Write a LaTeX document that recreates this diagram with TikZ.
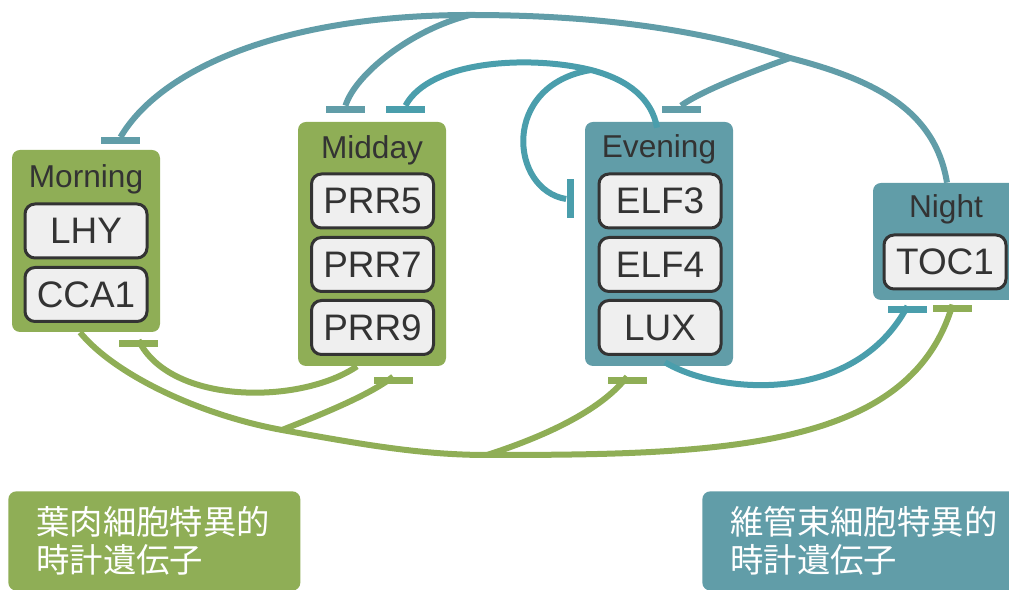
\documentclass[tikz,border=0pt]{standalone}
\usepackage{fontspec}
\setmainfont{Liberation Sans}
\newfontfamily\jpfont{Noto Sans CJK JP}
\usetikzlibrary{calc}
\definecolor{leaf}{RGB}{143,174,86}
\definecolor{vasc}{RGB}{97,157,168}
\definecolor{evline}{RGB}{74,158,172}
\definecolor{genefill}{RGB}{239,239,239}
\definecolor{ink}{RGB}{51,51,51}
\newlength{\pu}
\setlength{\pu}{0.02cm}

\begin{document}
\begin{tikzpicture}
	    [x=0.02cm, y=-0.02cm,
	    phase/.style={fill=#1, rounded corners=8\pu, minimum width=148\pu, inner sep=0pt},
	    phasetitle/.style={text=ink, anchor=base, inner sep=0pt, font=\fontsize{18}{20}\selectfont},
	    gene/.style={fill=genefill, draw=ink, line width=3\pu, rounded corners=10\pu, minimum width=122\pu, minimum height=54\pu, inner sep=0pt, text=ink, font=\fontsize{21}{24}\selectfont},
	    hbar/.style={fill=#1, minimum width=39\pu, minimum height=7\pu, inner sep=0pt},
	    vbar/.style={fill=#1, minimum width=7\pu, minimum height=39\pu, inner sep=0pt},
	    inh/.style={draw=#1, line width=6\pu},
	    cellbox/.style={fill=#1, rounded corners=8\pu, anchor=north west, text=white, align=left, inner xsep=28\pu, inner ysep=15\pu, font=\jpfont\fontsize{19}{21.8}\selectfont}]
	     \useasboundingbox (0,0) rectangle (1009,590);
	     % phase boxes
	     \node[phase=leaf, minimum height=182\pu] (morning) at (86, 241) {};
	     \node[phase=leaf, minimum height=244\pu] (midday) at (372, 244) {};
	     \node[phase=vasc, minimum height=244\pu] (evening) at (659, 244) {};
	     \node[phase=vasc, minimum height=117\pu] (night) at (947, 241.5) {};
	     \node[phasetitle] (Tmorning) at (86, 188) {Morning};
	     \node[phasetitle] (Tmidday) at (372, 159) {Midday};
	     \node[phasetitle] (Tevening) at (659, 158) {Evening};
	     \node[phasetitle] (Tnight) at (946, 218) {Night};
	     % genes
	     \node[gene] (LHY) at (86, 231) {LHY};
	     \node[gene] (CCA1) at (86, 294.5) {CCA1};
	     \node[gene] (PRR5) at (372.5, 201) {PRR5};
	     \node[gene] (PRR7) at (372.5, 264.5) {PRR7};
	     \node[gene] (PRR9) at (372.5, 327.5) {PRR9};
	     \node[gene] (ELF3) at (660, 201) {ELF3};
	     \node[gene] (ELF4) at (660, 264.5) {ELF4};
	     \node[gene] (LUX) at (660, 327.5) {LUX};
	     \node[gene] (TOC1) at (945, 262) {TOC1};
	     % cell types
	     \node[cellbox=leaf, text width=236\pu] (meso) at (8, 491) {葉肉細胞特異的\\時計遺伝子};
	     \node[cellbox=vasc, text width=300\pu] (vascular) at (702, 491) {維管束細胞特異的\\時計遺伝子};
	     % repression bars
	     \node[hbar=vasc] (B1) at (120.5, 141) {};
	     \node[hbar=vasc] (B2) at (345.5, 109.5) {};
	     \node[hbar=evline] (B3) at (405.5, 109.5) {};
	     \node[hbar=vasc] (B4) at (681, 109.5) {};
	     \node[vbar=evline] (B5) at (570, 199) {};
	     \node[hbar=evline] (B6) at (907.5, 310) {};
	     \node[hbar=leaf] (B7) at (952.5, 308.5) {};
	     \node[hbar=leaf] (B8) at (138.5, 344) {};
	     \node[hbar=leaf] (B9) at (393, 380.5) {};
	     \node[hbar=leaf] (B10) at (627, 380.5) {};
	     \coordinate (ts1) at (470, 15);
	     \coordinate (ts2) at (790, 58);
	     \coordinate (es) at (591, 70);
	     \coordinate (gs1) at (282, 430);
	     \coordinate (gs2) at (487, 455);
	     % night
	     \draw[inh=vasc] (night.north) .. controls (935,110) and (875,80) .. (ts2) .. controls (700,30) and (600,15) .. (ts1) .. controls (280,15) and (160,70) .. (B1.north);
	     \draw[inh=vasc] (ts1) .. controls (410,30) and (355,75) .. (B2.north);
	     \draw[inh=vasc] (ts2) .. controls (745,74) and (700,92) .. (B4.north);
	     % evening
	     \draw[inh=evline] ([xshift=-2\pu, yshift=-6\pu]evening.north) .. controls (652,100) and (630,80) .. (es) .. controls (530,55) and (430,60) .. (B3.north);
	     \draw[inh=evline] (es) .. controls (500,85) and (510,190) .. (B5.west);
	     \draw[inh=evline] ([xshift=6\pu, yshift=4\pu]evening.south) .. controls (720,395) and (855,405) .. (B6.north);
	     % midday
	     \draw[inh=leaf] ([xshift=-15\pu]midday.south) .. controls (300,405) and (170,405) .. (B8.north);
	     % morning
	     \draw[inh=leaf] ([xshift=-6\pu]morning.south) .. controls (115,375) and (200,415) .. (gs1) .. controls (360,444) and (420,455) .. (gs2) .. controls (720,455) and (910,450) .. (B7.north);
	     \draw[inh=leaf] (gs1) .. controls (320,415) and (370,395) .. (B9.north);
	     \draw[inh=leaf] (gs2) .. controls (540,438) and (600,412) .. (B10.north);
	\end{tikzpicture}
\end{document}
